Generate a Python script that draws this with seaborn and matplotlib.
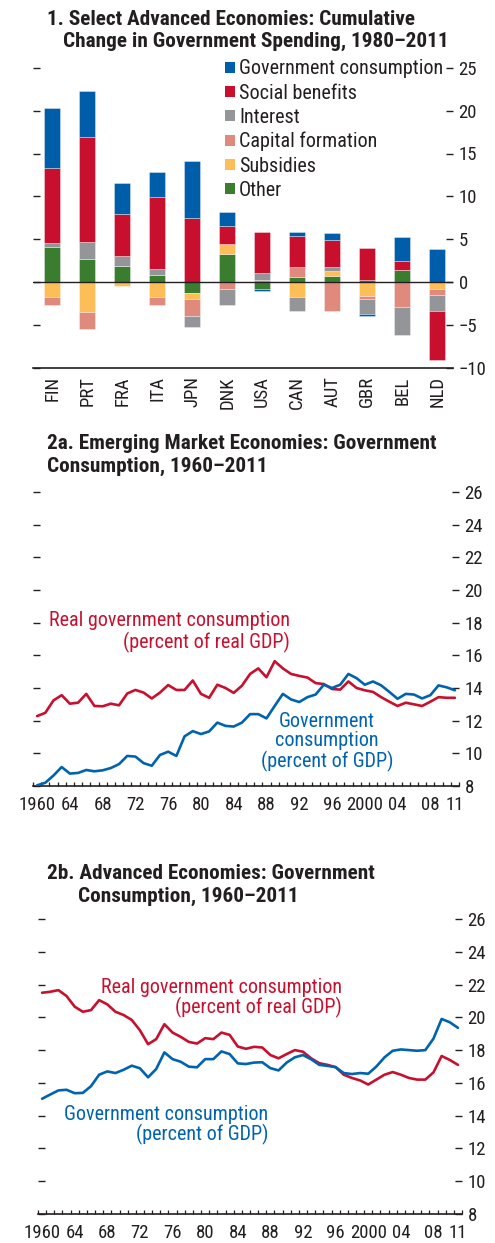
import numpy as np
import pandas as pd
import matplotlib
matplotlib.use("Agg")
import matplotlib.pyplot as plt
from matplotlib.patches import Patch
from matplotlib import font_manager
import seaborn as sns

# ---------------- data ----------------
countries = ["FIN", "PRT", "FRA", "ITA", "JPN", "DNK", "USA", "CAN", "AUT", "GBR", "BEL", "NLD"]

# cumulative change 1980-2011, percentage points of GDP, by component
other = [4.1, 2.7, 1.9, 0.8, -1.3, 3.3, -0.74, 0.6, 0.74, 0.27, 1.44, 0.0]
subsidies = [-1.7, -3.5, -0.5, -1.7, -0.7, 1.1, 0.0, -1.7, 0.55, -1.6, 0.0, -0.74]
capital_formation = [-1.0, -1.9, 0.0, -1.0, -1.9, -0.8, 0.27, 1.2, -3.3, -0.3, -2.9, -0.8]
interest = [0.5, 2.0, 1.2, 0.75, -1.3, -1.9, 0.85, -1.7, 0.5, -1.8, -3.2, -1.85]
social_benefits = [8.7, 12.2, 4.9, 8.35, 7.5, 2.2, 4.7, 3.6, 3.1, 3.73, 1.06, -5.65]
government_consumption = [7.0, 5.4, 3.6, 3.0, 6.6, 1.6, -0.23, 0.4, 0.8, -0.2, 2.75, 3.9]

years = list(range(1960, 2012))

em_real_gc = [12.28, 12.48, 13.24, 13.56, 13.04, 13.1, 13.64, 12.9, 12.88, 13.04,
              12.94, 13.66, 13.88, 13.72, 13.36, 13.72, 14.18, 13.88, 13.88, 14.46,
              13.64, 13.4, 14.2, 14.0, 13.7, 14.14, 14.86, 15.2, 14.66, 15.64,
              15.2, 14.86, 14.74, 14.64, 14.3, 14.24, 13.94, 13.9, 14.4, 14.0,
              13.86, 13.76, 13.44, 13.16, 12.9, 13.1, 13.0, 12.9, 13.16, 13.44,
              13.4, 13.4]
em_nominal_gc = [8.04, 8.2, 8.64, 9.16, 8.76, 8.8, 8.98, 8.9, 8.96, 9.1,
                 9.34, 9.84, 9.8, 9.4, 9.24, 9.9, 10.1, 9.84, 11.04, 11.36,
                 11.18, 11.34, 11.88, 11.68, 11.64, 11.88, 12.4, 12.4, 12.14, 12.9,
                 13.64, 13.3, 13.14, 13.44, 13.6, 14.2, 14.0, 14.2, 14.86, 14.6,
                 14.2, 14.4, 14.16, 13.76, 13.34, 13.64, 13.6, 13.36, 13.56, 14.16,
                 14.04, 13.86]

ae_real_gc = [21.5, 21.56, 21.66, 21.3, 20.65, 20.34, 20.44, 21.05, 20.79, 20.34,
              20.14, 19.84, 19.21, 18.36, 18.67, 19.58, 19.07, 18.81, 18.5, 18.4,
              18.73, 18.67, 19.07, 18.93, 18.22, 18.08, 18.2, 18.16, 17.7, 17.5,
              17.76, 18.0, 17.9, 17.5, 17.2, 17.1, 16.96, 16.5, 16.3, 16.15,
              15.9, 16.2, 16.5, 16.66, 16.5, 16.3, 16.2, 16.2, 16.64, 17.64,
              17.4, 17.1]
ae_nominal_gc = [15.03, 15.29, 15.54, 15.58, 15.37, 15.39, 15.8, 16.5, 16.7, 16.6,
                 16.8, 17.05, 16.89, 16.34, 16.85, 17.86, 17.45, 17.29, 16.99, 16.95,
                 17.45, 17.45, 17.92, 17.76, 17.19, 17.15, 17.24, 17.26, 16.9, 16.76,
                 17.24, 17.56, 17.7, 17.44, 17.1, 17.04, 16.96, 16.6, 16.54, 16.6,
                 16.56, 17.0, 17.56, 17.96, 18.04, 18.0, 17.96, 18.0, 18.7, 19.9,
                 19.7, 19.36]

year_ticks = [1960, 1964, 1968, 1972, 1976, 1980, 1984, 1988, 1992, 1996, 2000, 2004, 2008, 2011]
year_labels = ["1960", "64", "68", "72", "76", "80", "84", "88", "92", "96", "2000", "04", "08", "11"]

# ---------------- style ----------------
sns.set_theme(style="ticks")
available = {f.name for f in font_manager.fontManager.ttflist}
narrow = next((n for n in ["Liberation Sans Narrow", "Roboto Condensed", "Roboto", "Liberation Sans"]
               if n in available), "DejaVu Sans")
plt.rcParams["font.family"] = [narrow, "DejaVu Sans"]
plt.rcParams["axes.unicode_minus"] = True

INK = "#231F20"
RED = "#C8102E"
BLUE = "#0063AF"
component_colors = {
    "Government consumption": "#005DAA",
    "Social benefits": "#C8102E",
    "Interest": "#939598",
    "Capital formation": "#E08A7D",
    "Subsidies": "#FDBE57",
    "Other": "#3A7D2E",
}
FS = 13.5      # tick labels
AFS = 14.5     # legend and series notes
TFS = 15.3     # panel titles

W, H = 495, 1243
fig = plt.figure(figsize=(W / 100, H / 100), dpi=100)
fig.patch.set_facecolor("white")


def px_axes(left, top, right, bottom):
    return fig.add_axes([left / W, 1 - bottom / H, (right - left) / W, (bottom - top) / H])


def fx(x):
    return x / W


def fy(y):
    return 1 - y / H


def fmt(v):
    s = f"{v:g}"
    return s.replace("-", "\u2212")


# ---------------- panel 1: stacked bars ----------------
ax1 = px_axes(33, 67.7, 453, 368)
stack = [
    ("Other", other),
    ("Subsidies", subsidies),
    ("Capital formation", capital_formation),
    ("Interest", interest),
    ("Social benefits", social_benefits),
    ("Government consumption", government_consumption),
]
xpos = np.arange(len(countries))
pos_base = np.zeros(len(countries))
neg_base = np.zeros(len(countries))
for name, vals in stack:
    v = np.asarray(vals, dtype=float)
    bottoms = np.where(v >= 0, pos_base, neg_base)
    ax1.bar(xpos, v, bottom=bottoms, width=0.47, color=component_colors[name],
            edgecolor=(1, 1, 1, 0.5), linewidth=0.5, zorder=2)
    pos_base = pos_base + np.where(v > 0, v, 0)
    neg_base = neg_base + np.where(v < 0, v, 0)

ax1.axhline(0, color=INK, lw=1.0, zorder=3)
ax1.set_xlim(-0.55, 11.45)
ax1.set_ylim(-10, 25)
yt1 = np.arange(-10, 26, 5)
ax1.set_yticks(yt1)
ax1.set_yticklabels([fmt(v) for v in yt1])
ax1.set_xticks(xpos)
ax1.set_xticklabels(countries, rotation=90, fontsize=FS, color=INK, va="top")
ax1.tick_params(axis="x", length=0, pad=6)
for sp in ["left", "right", "top"]:
    ax1.spines[sp].set_visible(False)
ax1.spines["bottom"].set_color(INK)
ax1.spines["bottom"].set_linewidth(1.2)
ax1.set_facecolor("white")

legend_order = ["Government consumption", "Social benefits", "Interest",
                "Capital formation", "Subsidies", "Other"]
handles = [Patch(facecolor=component_colors[n], edgecolor="none") for n in legend_order]
fig.legend(handles, legend_order, loc="upper left", bbox_to_anchor=(fx(225), fy(59.5)),
           frameon=False, fontsize=AFS, handlelength=0.5, handleheight=0.5,
           handletextpad=0.2, labelspacing=0.255, borderpad=0, borderaxespad=0,
           labelcolor=INK)


def style_value_axis(ax):
    ax.tick_params(axis="y", which="major", left=True, right=True, labelleft=False,
                   labelright=True, direction="in", length=5, width=1.0, color=INK,
                   labelsize=FS, labelcolor=INK, pad=4)


style_value_axis(ax1)


# ---------------- panels 2a / 2b: lines ----------------
def line_panel(ax, real, nominal):
    df = pd.DataFrame({"year": years, "real": real, "nominal": nominal})
    sns.lineplot(data=df, x="year", y="real", ax=ax, color=RED, linewidth=1.9, zorder=3)
    sns.lineplot(data=df, x="year", y="nominal", ax=ax, color=BLUE, linewidth=1.9, zorder=3)
    ax.set_xlim(1959.5, 2011.5)
    ax.set_ylim(8, 26)
    yt = np.arange(8, 27, 2)
    ax.set_yticks(yt)
    ax.set_yticklabels([fmt(v) for v in yt])
    ax.set_xticks(year_ticks)
    ax.set_xticklabels(year_labels)
    ax.set_xticks(np.arange(1959.5, 2012, 1.0), minor=True)
    ax.tick_params(axis="x", which="major", length=0, labelsize=FS, labelcolor=INK, pad=7)
    ax.tick_params(axis="x", which="minor", direction="in", length=3, width=0.9, color=INK)
    style_value_axis(ax)
    ax.set_xlabel("")
    ax.set_ylabel("")
    for sp in ["left", "right", "top"]:
        ax.spines[sp].set_visible(False)
    ax.spines["bottom"].set_color(INK)
    ax.spines["bottom"].set_linewidth(1.2)
    ax.set_facecolor("white")


ax2 = px_axes(33, 492, 459, 786)
line_panel(ax2, em_real_gc, em_nominal_gc)
ax3 = px_axes(38, 919, 462, 1214)
line_panel(ax3, ae_real_gc, ae_nominal_gc)

# ---------------- titles ----------------
def title_line(x, y, s):
    fig.text(fx(x), fy(y), s, fontsize=TFS, fontweight="bold", color=INK,
             ha="left", va="baseline")


title_line(47, 25, "1. Select Advanced Economies: Cumulative")
title_line(63, 47, "Change in Government Spending, 1980\u20132011")
title_line(47, 449, "2a. Emerging Market Economies: Government")
title_line(47, 472, "Consumption, 1960\u20132011")
title_line(47, 879, "2b. Advanced Economies: Government")
title_line(78, 902, "Consumption, 1960\u20132011")

# ---------------- series annotations ----------------
fig.text(fx(290), fy(632), "Real government consumption\n(percent of real GDP)",
         color=RED, fontsize=AFS, ha="right", va="center", multialignment="right",
         linespacing=1.1)
fig.text(fx(327), fy(742), "Government\nconsumption\n(percent of GDP)",
         color=BLUE, fontsize=AFS, ha="center", va="center", multialignment="center",
         linespacing=1.05)
fig.text(fx(342), fy(998), "Real government consumption\n(percent of real GDP)",
         color=RED, fontsize=AFS, ha="right", va="center", multialignment="right",
         linespacing=1.05)
fig.text(fx(268), fy(1125), "Government consumption\n(percent of GDP)",
         color=BLUE, fontsize=AFS, ha="right", va="center", multialignment="right",
         linespacing=1.05)

fig.savefig("out.png", dpi=100, facecolor="white")
